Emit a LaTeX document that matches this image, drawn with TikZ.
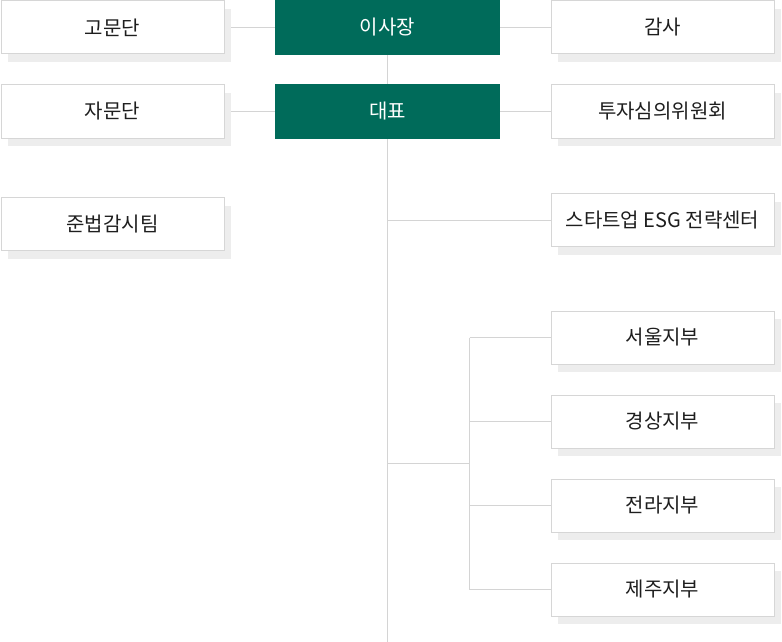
\documentclass[tikz,border=0pt]{standalone}
\usepackage{fontspec}
\setmainfont{Noto Sans CJK KR}
\usepackage{tikz}
\usetikzlibrary{shadows,backgrounds,calc}

\definecolor{boardgreen}{HTML}{006B5A}
\definecolor{boxline}{HTML}{D6D6D6}
\definecolor{linkline}{HTML}{D4D4D4}
\definecolor{shadegray}{HTML}{EDEDED}
\definecolor{textdark}{HTML}{1E1E1E}

\tikzset{
  unit/.style = {draw=boxline, line width=1pt, fill=white, text=textdark,
    minimum width=223pt, minimum height=53pt, inner sep=0pt, font=\fontsize{20}{22}\selectfont,
    drop shadow={shadow xshift=7pt, shadow yshift=-8pt, fill=shadegray, opacity=1}},
  head/.style = {fill=boardgreen, text=white, minimum width=225pt, minimum height=55pt,
    inner sep=0pt, font=\fontsize{20}{22}\selectfont},
  link/.style = {draw=linkline, line width=1pt}
}

\begin{document}
\begin{tikzpicture}[x=1pt, y=-1pt]
      \useasboundingbox (0,0) rectangle (782,642);

      \node[head] at (387.5, 27.5) (chair) {이사장};
      \node[head] at (387.5,111.5) (ceo)   {대표};

      \node[unit] at (112.5, 27.5) (advise) {고문단};
      \node[unit] at (112.5,111.5) (consult) {자문단};
      \node[unit] at (112.5,224)   (comply) {준법감시팀};

      \node[unit] at (662.5, 27.5) (audit)  {감사};
      \node[unit] at (662.5,111.5) (invest) {투자심의위원회};
      \node[unit] at (662.5,220)   (esg)    {스타트업 ESG 전략센터};

      \node[unit] at (662.5,337.5) (seoul) {서울지부};
      \node[unit] at (662.5,421.5) (gs)    {경상지부};
      \node[unit] at (662.5,505.5) (jr)    {전라지부};
      \node[unit] at (662.5,589.5) (jeju)  {제주지부};

      \coordinate (bot) at (387.5,642);
      \coordinate (hub) at (469.5,463.5);

      \begin{pgfonlayer}{background}
        \draw[link] (advise) -- (chair) -- (audit);
        \draw[link] (consult) -- (ceo) -- (invest);
        \draw[link] (chair.south) -- (ceo.north);
        \draw[link] (ceo.south) -- (bot);
        \draw[link] (ceo.south |- esg.west) -- (esg.west);
        \draw[link] (ceo.south |- hub) -- (hub);
        \draw[link] (hub |- seoul.west) -- (hub |- jeju.west);
        \foreach \n in {seoul, gs, jr, jeju}
          \draw[link] (hub |- \n.west) -- (\n.west);
      \end{pgfonlayer}
\end{tikzpicture}
\end{document}
